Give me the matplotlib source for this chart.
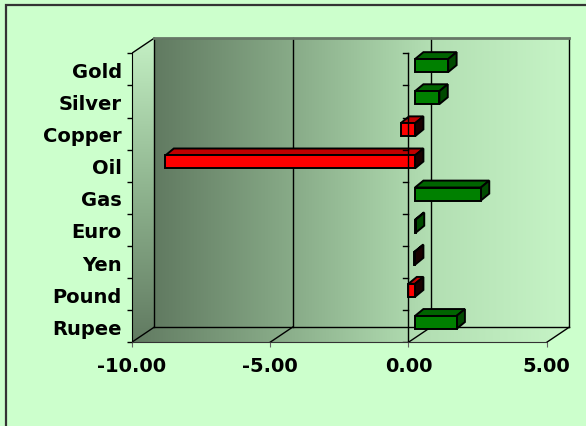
import matplotlib
matplotlib.use("Agg")
import matplotlib.pyplot as plt
import numpy as np
from matplotlib.patches import Polygon, Rectangle
from matplotlib.colors import LinearSegmentedColormap

# price changes, bottom to top
categories = ["Rupee", "Pound", "Yen", "Euro", "Gas", "Oil", "Copper", "Silver", "Gold"]
changes = [1.50, -0.24, -0.02, 0.03, 2.38, -9.02, -0.52, 0.88, 1.20]
tick_values = [-10, -5, 0, 5]
tick_labels = ["-10.00", "-5.00", "0.00", "5.00"]

BG = "#ccffcc"
XMIN, XMAX = -10, 5
NCAT = len(categories)

# pixel scale of the front plane
W, H = 586, 427
PX_X, PX_Y = 27.67, 32.11
LEFT_PX, BOTTOM_PX = 131.7, 343.3
RIGHT_PX, TOP_PX = 580, 34

# depth of the box and of the bars, in data units
DX, DY = 22.6 / PX_X, 15.2 / PX_Y
BDX, BDY = 8.4 / PX_X, 6.9 / PX_Y
FX, FY = 6.6 / PX_X, 3.8 / PX_Y
BAR_H = 13.0 / PX_Y

plt.rcParams["font.family"] = "DejaVu Sans"
plt.rcParams["font.weight"] = "bold"

fig = plt.figure(figsize=(W / 100, H / 100), dpi=100)
fig.patch.set_facecolor(BG)
ax = fig.add_axes([LEFT_PX / W, 1 - BOTTOM_PX / H,
                   (RIGHT_PX - LEFT_PX) / W, (BOTTOM_PX - TOP_PX) / H])
ax.patch.set_visible(False)

wall_cmap = LinearSegmentedColormap.from_list(
    "wall", ["#617a61", "#88ab88", "#b3dfb3", "#c6f4c6"])
side_cmap = LinearSegmentedColormap.from_list(
    "side", ["#617a61", "#8fb48f", "#c4f0c4"])


def shade(verts, cmap, horizontal=True, z=0):
    """fill a polygon with a linear gradient"""
    poly = Polygon(verts, closed=True, facecolor="none", edgecolor="none")
    ax.add_patch(poly)
    xs, ys = zip(*verts)
    g = np.linspace(0, 1, 256)
    img = g[None, :] if horizontal else g[:, None]
    im = ax.imshow(img, cmap=cmap, origin="lower", aspect="auto",
                   interpolation="bilinear", zorder=z,
                   extent=[min(xs), max(xs), min(ys), max(ys)])
    im.set_clip_path(poly)


# walls and floor
shade([(XMIN + DX, DY), (XMAX + DX, DY), (XMAX + DX, NCAT + DY), (XMIN + DX, NCAT + DY)], wall_cmap)
shade([(XMIN, 0), (XMAX, 0), (XMAX + DX, DY), (XMIN + DX, DY)], wall_cmap)
shade([(XMIN, 0), (XMIN + DX, DY), (XMIN + DX, NCAT + DY), (XMIN, NCAT)], side_cmap, horizontal=False)

# grid lines on back wall and floor
line_kw = dict(color="black", lw=1.0, zorder=2)
for v in tick_values:
    ax.plot([v + DX, v + DX], [DY, NCAT + DY], **line_kw)
    ax.plot([v, v + DX], [0, DY], **line_kw)
ax.plot([XMIN + DX, XMAX + DX], [DY, DY], **line_kw)
ax.plot([XMIN, XMIN + DX], [NCAT, NCAT + DY], **line_kw)
ax.plot([XMIN + DX, XMAX + DX], [NCAT + DY, NCAT + DY], color="#667766", lw=2, zorder=2)

# 3d bars
centers = np.arange(NCAT) + 0.5 + FY
fronts = ["#008000" if v >= 0 else "#ff0000" for v in changes]
ax.barh(centers, changes, height=BAR_H, left=FX, color=fronts,
        edgecolor="black", linewidth=1.4, zorder=4)
for c, v in zip(centers, changes):
    top_col, side_col = ("#006400", "#004a00") if v >= 0 else ("#c00000", "#1a0000")
    a, b = sorted([FX, FX + v])
    y0, y1 = c - BAR_H / 2, c + BAR_H / 2
    ax.add_patch(Polygon([(a, y1), (b, y1), (b + BDX, y1 + BDY), (a + BDX, y1 + BDY)],
                         facecolor=top_col, edgecolor="black", lw=1.4, zorder=3))
    ax.add_patch(Polygon([(b, y0), (b, y1), (b + BDX, y1 + BDY), (b + BDX, y0 + BDY)],
                         facecolor=side_col, edgecolor="black", lw=1.4, zorder=3))

# front value axis at zero with category ticks
ax.plot([0, 0], [0, NCAT], color="black", lw=1.0, zorder=5)
for k in range(NCAT + 1):
    ax.plot([-5 / PX_X, 0], [k, k], color="black", lw=1.0, zorder=5)

ax.set_xlim(XMIN, XMIN + (RIGHT_PX - LEFT_PX) / PX_X)
ax.set_ylim(0, (BOTTOM_PX - TOP_PX) / PX_Y)

for side in ["top", "right"]:
    ax.spines[side].set_visible(False)
ax.spines["left"].set_bounds(0, NCAT)
ax.spines["bottom"].set_bounds(XMIN, XMAX)
ax.spines["bottom"].set_color("#333333")

ax.set_xticks(tick_values)
ax.set_xticklabels(tick_labels, fontsize=14, fontweight="bold")
ax.tick_params(axis="x", length=3.6, pad=6, color="#666666")

ax.set_yticks(range(NCAT + 1))
ax.set_yticklabels([])
ax.set_yticks(np.arange(NCAT) + 0.5, minor=True)
ax.set_yticklabels(categories, minor=True, fontsize=14, fontweight="bold")
ax.tick_params(axis="y", which="major", length=3.6, width=1.0)
ax.tick_params(axis="y", which="minor", length=0, pad=7)

# chart area border
fig.add_artist(Rectangle((6 / W, -0.05), 1.1, 1.05 - 5.5 / H, transform=fig.transFigure,
                         fill=False, edgecolor="#333333", lw=1.6))

fig.savefig("out.png", dpi=100, facecolor=BG)
